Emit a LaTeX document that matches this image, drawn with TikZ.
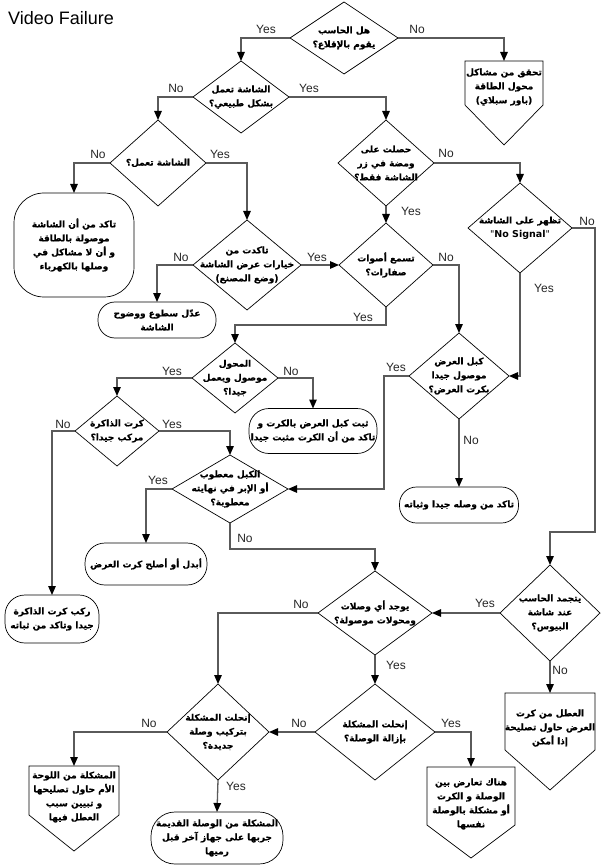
\documentclass[tikz,border=0pt]{standalone}
\usepackage{fontspec}
\setmainfont{Liberation Sans}
\newfontfamily\arfont[Script=Arabic,BoldFeatures={FakeBold=0.6}]{DejaVu Sans}
\newfontfamily\dvfont{DejaVu Sans}
\TeXXeTstate=1
\usetikzlibrary{arrows.meta,shapes.geometric,calc}
\newcommand{\ar}[1]{{\arfont\bfseries\beginR #1\endR}}
\definecolor{linegray}{HTML}{5A5A5A}
\tikzset{
  dia/.style={diamond,draw=black,line width=0.7pt,inner sep=0pt,outer sep=0pt},
  term/.style={rectangle,draw=black,line width=0.7pt,inner sep=0pt,outer sep=0pt},
  opg/.style={rectangle,inner sep=0pt,outer sep=0pt,anchor=north},
  opborder/.style={draw=black,line width=0.7pt},
  txt/.style={align=center,inner sep=0pt,font=\fontsize{9}{14}\selectfont},
  conn/.style={draw=linegray,line width=1.3pt,-{Triangle[length=9pt,width=7.5pt,color=black]}},
  lab/.style={inner sep=0pt,text=black!85,font=\fontsize{12}{12}\selectfont},
}
\begin{document}
\begin{tikzpicture}[x=1pt,y=-1pt]
\useasboundingbox[fill=white] (0,0) rectangle (602,866);
\node[anchor=west,inner sep=0pt,font=\fontsize{18}{18}\selectfont] (title) at (8,18) {Video Failure};

% diamonds
\node[dia,minimum width=108pt,minimum height=72pt] (d1) at (344,38) {};
\node[txt] (d1t) at (d1) {\ar{هل الحاسب}\\\ar{يقوم بالإقلاع؟}};
\node[dia,minimum width=96pt,minimum height=72pt] (d2) at (241,97) {};
\node[txt] (d2t) at (d2) {\ar{الشاشة تعمل}\\\ar{بشكل طبيعي؟}};
\node[dia,minimum width=96pt,minimum height=86pt] (d3) at (158,163) {};
\node[txt] (d3t) at (d3) {\ar{الشاشة تعمل؟}};
\node[dia,minimum width=96pt,minimum height=86pt] (d4) at (386,163) {};
\node[txt] (d4t) at (d4) {\ar{حصلت على}\\\ar{ومضة في زر}\\\ar{الشاشة فقط؟}};
\node[dia,minimum width=108pt,minimum height=90pt] (d5) at (247,265) {};
\node[txt] (d5t) at (d5) {\ar{تاكدت من}\\\ar{خيارات عرض الشاشة}\\\ar{(وضع المصنع)}};
\node[dia,minimum width=94pt,minimum height=84pt] (d6) at (386,265) {};
\node[txt] (d6t) at (d6) {\ar{تسمع أصوات}\\\ar{صفارات؟}};
\node[dia,minimum width=104pt,minimum height=90pt] (d7) at (520,228) {};
\node[txt] (d7t) at (d7) {\ar{تظهر على الشاشة}\\{\dvfont\fontsize{9.5}{14}\selectfont"\textbf{No Signal}"}};
\node[dia,minimum width=100pt,minimum height=86pt] (d8) at (459,376) {};
\node[txt] (d8t) at (d8) {\ar{كبل العرض}\\\ar{موصول جيدا}\\\ar{بكرت العرض؟}};
\node[dia,minimum width=86pt,minimum height=70pt] (d9) at (235,378) {};
\node[txt] (d9t) at (d9) {\ar{المحول}\\\ar{موصول ويعمل}\\\ar{جيدا؟}};
\node[dia,minimum width=116pt,minimum height=68pt] (d10) at (230,489) {};
\node[txt] (d10t) at (d10) {\ar{الكبل معطوب}\\\ar{أو الإبر في نهايته}\\\ar{معطوبة؟}};
\node[dia,minimum width=84pt,minimum height=70pt] (d11) at (117,431) {};
\node[txt] (d11t) at (d11) {\ar{كرت الذاكرة}\\\ar{مركب جيدا؟}};
\node[dia,minimum width=114pt,minimum height=84pt] (d12) at (375,613) {};
\node[txt] (d12t) at (d12) {\ar{يوجد أي وصلات}\\\ar{ومحولات موصولة؟}};
\node[dia,minimum width=100pt,minimum height=96pt] (d13) at (550,613) {};
\node[txt] (d13t) at (d13) {\ar{يتجمد الحاسب}\\\ar{عند شاشة}\\\ar{البيوس؟}};
\node[dia,minimum width=102pt,minimum height=96pt] (d14) at (218,732) {};
\node[txt] (d14t) at (d14) {\ar{إنحلت المشكلة}\\\ar{بتركيب وصلة}\\\ar{جديدة؟}};
\node[dia,minimum width=120pt,minimum height=96pt] (d15) at (375,732) {};
\node[txt] (d15t) at (d15) {\ar{إنحلت المشكلة}\\\ar{بإزالة الوصلة؟}};

% terminators
\node[term,rounded corners=30pt,minimum width=120pt,minimum height=104pt] (t1) at (74,245) {};
\node[txt] (t1t) at (t1) {\ar{تاكد من أن الشاشة}\\\ar{موصولة بالطاقة}\\\ar{و أن لا مشاكل في}\\\ar{وصلها بالكهرباء}};
\node[term,rounded corners=17pt,minimum width=118pt,minimum height=36pt] (t2) at (157,320) {};
\node[txt] (t2t) at (t2) {\ar{عدّل سطوع ووضوح}\\\ar{الشاشة}};
\node[term,rounded corners=17pt,minimum width=119pt,minimum height=36pt] (t3) at (459,505) {};
\node[txt] (t3t) at (t3) {\ar{تاكد من وصله جيدا وثباته}};
\node[term,rounded corners=20pt,minimum width=128pt,minimum height=45pt] (t4) at (313,431) {};
\node[txt] (t4t) at (t4) {\ar{ثبت كبل العرض بالكرت و}\\\ar{تاكد من أن الكرت مثبت جيدا}};
\node[term,rounded corners=20pt,minimum width=94pt,minimum height=48pt] (t5) at (52,619) {};
\node[txt] (t5t) at (t5) {\ar{ركب كرت الذاكرة}\\\ar{جيدا وتاكد من ثباته}};
\node[term,rounded corners=20pt,minimum width=122pt,minimum height=42pt] (t6) at (146,564) {};
\node[txt] (t6t) at (t6) {\ar{أبدل أو أصلح كرت العرض}};
\node[term,rounded corners=24pt,minimum width=132pt,minimum height=52pt] (t7) at (217,838) {};
\node[txt] (t7t) at (t7) {\ar{المشكلة من الوصلة القديمة}\\\ar{جربها على جهاز آخر قبل}\\\ar{رميها}};

% off-page shapes
\node[opg,minimum width=78pt,minimum height=84pt] (p1) at (504,61) {};
\draw[opborder] (p1.north west) -- (p1.north east) -- ($(p1.south east)+(0,-40)$) -- (p1.south) -- ($(p1.south west)+(0,-40)$) -- cycle;
\node[txt] (p1t) at (504,87) {\ar{تحقق من مشاكل}\\\ar{محول الطاقة}\\\ar{(باور سبلاي)}};
\node[opg,minimum width=90pt,minimum height=97pt] (p2) at (550,693) {};
\draw[opborder] (p2.north west) -- (p2.north east) -- ($(p2.south east)+(0,-40)$) -- (p2.south) -- ($(p2.south west)+(0,-40)$) -- cycle;
\node[txt] (p2t) at (550,728) {\ar{العطل من كرت}\\\ar{العرض حاول تصليحة}\\\ar{إذا أمكن}};
\node[opg,minimum width=88pt,minimum height=91pt] (p3) at (471,767) {};
\draw[opborder] (p3.north west) -- (p3.north east) -- ($(p3.south east)+(0,-33)$) -- (p3.south) -- ($(p3.south west)+(0,-33)$) -- cycle;
\node[txt] (p3t) at (471,804) {\ar{هناك تعارض بين}\\\ar{الوصلة و الكرت}\\\ar{أو مشكلة بالوصلة}\\\ar{نفسها}};
\node[opg,minimum width=90pt,minimum height=85pt] (p4) at (74,766) {};
\draw[opborder] (p4.north west) -- (p4.north east) -- ($(p4.south east)+(0,-36)$) -- (p4.south) -- ($(p4.south west)+(0,-36)$) -- cycle;
\node[txt] (p4t) at (74,797) {\ar{المشكلة من اللوحة}\\\ar{الأم حاول تصليحها}\\\ar{و تبيين سبب}\\\ar{العطل فيها}};

% connectors
\draw[conn] (d1.west) -| (d2.north);
\draw[conn] (d1.east) -| (p1.north);
\draw[conn] (d2.west) -| (d3.north);
\draw[conn] (d2.east) -| (d4.north);
\draw[conn] (d3.west) -| (t1.north);
\draw[conn] (d3.east) -| (d5.north);
\draw[conn] (d4.east) -| (d7.north);
\draw[conn] (d4.south) -- (d6.north);
\draw[conn] (d5.west) -| (t2.north);
\draw[conn] (d5.east) -- (d6.west);
\draw[conn] (d6.east) -| (d8.north);
\draw[conn] (d6.south) |- ($(d9.north)+(0,-18)$) -- (d9.north);
\coordinate (c13) at (595,532);
\draw[conn] (d7.east) -| (c13) -| (d13.north);
\draw[conn] (d7.south) |- (d8.east);
\draw[conn] (d8.south) -- (t3.north);
\draw[conn] (d8.west) -- ++(-25,0) |- (d10.east);
\draw[conn] (d9.west) -| (d11.north);
\draw[conn] (d9.east) -| (t4.north);
\draw[conn] (d11.west) -| (t5.north);
\draw[conn] (d11.east) -| (d10.north);
\draw[conn] (d10.west) -| (t6.north);
\draw[conn] (d10.south) |- ($(d12.north)+(0,-22)$) -- (d12.north);
\draw[conn] (d13.west) -- (d12.east);
\draw[conn] (d13.south) -- (p2.north);
\draw[conn] (d12.west) -| (d14.north);
\draw[conn] (d12.south) -- (d15.north);
\draw[conn] (d15.west) -- (d14.east);
\draw[conn] (d15.east) -| (p3.north);
\draw[conn] (d14.west) -| (p4.north);
\draw[conn] (d14.south) -- (t7.north);

% labels
\node[lab] (l1) at (266,29) {Yes};
\node[lab] (l2) at (417,29) {No};
\node[lab] (l3) at (176,88) {No};
\node[lab] (l4) at (309,88) {Yes};
\node[lab] (l5) at (98,154) {No};
\node[lab] (l6) at (220,154) {Yes};
\node[lab] (l7) at (446,153) {No};
\node[lab] (l8) at (411,211) {Yes};
\node[lab] (l9) at (181,257) {No};
\node[lab] (l10) at (317,257) {Yes};
\node[lab] (l11) at (446,257) {No};
\node[lab] (l12) at (363,317) {Yes};
\node[lab] (l13) at (587,221) {No};
\node[lab] (l14) at (544,288) {Yes};
\node[lab] (l15) at (471,440) {No};
\node[lab] (l16) at (396,367) {Yes};
\node[lab] (l17) at (172,371) {Yes};
\node[lab] (l18) at (291,371) {No};
\node[lab] (l19) at (63,424) {No};
\node[lab] (l20) at (172,424) {Yes};
\node[lab] (l21) at (158,480) {Yes};
\node[lab] (l22) at (245,538) {No};
\node[lab] (l23) at (485,603) {Yes};
\node[lab] (l24) at (560,670) {No};
\node[lab] (l25) at (301,604) {No};
\node[lab] (l26) at (396,665) {Yes};
\node[lab] (l27) at (299,723) {No};
\node[lab] (l28) at (451,723) {Yes};
\node[lab] (l29) at (149,723) {No};
\node[lab] (l30) at (236,786) {Yes};
\end{tikzpicture}
\end{document}
